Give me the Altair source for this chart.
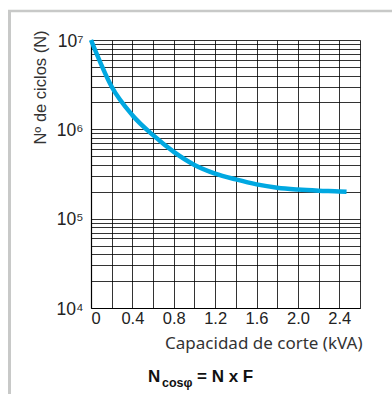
import altair as alt
import pandas as pd

# Curve data
cap_kva = [0.0, 0.2, 0.4, 0.6, 0.8, 1.0, 1.2, 1.4, 1.6, 1.8, 2.0, 2.2, 2.4, 2.47]
ciclos = [1.0e7, 3.0e6, 1.44e6, 8.6e5, 5.6e5, 4.0e5, 3.2e5, 2.75e5, 2.42e5, 2.22e5, 2.12e5, 2.06e5, 2.02e5, 2.0e5]

x_ticks = [0.0, 0.2, 0.4, 0.6, 0.8, 1.0, 1.2, 1.4, 1.6, 1.8, 2.0, 2.2, 2.4, 2.6]
y_ticks = [m * 10 ** e for e in (4, 5, 6) for m in range(1, 10)] + [10 ** 7]

x_title = "Capacidad de corte (kVA)"
y_title = "Nº de ciclos (N)"

df = pd.DataFrame({"x": cap_kva, "y": ciclos})

W, H = 269, 268
PL, PT = 91, 40

x_scale = alt.Scale(domain=[0, 2.6], nice=False, zero=False)
y_scale = alt.Scale(type="log", domain=[1e4, 1e7], nice=False)

curve = alt.Chart(df).mark_line(
    color="#00a8e1", strokeWidth=4.5, interpolate="monotone", strokeCap="butt"
).encode(
    x=alt.X("x:Q", scale=x_scale, axis=alt.Axis(
        values=x_ticks, grid=True, ticks=False, domain=True,
        labelExpr="datum.value == 0 ? '0' : ((round(datum.value*10) % 4 == 0 && datum.value < 2.5) ? format(datum.value, '.1f') : '')",
        labelFont="Liberation Sans", labelFontSize=16.5, labelColor="#222", labelPadding=2,
        title=x_title, titleFont="Noto Sans", titleFontSize=17, titleFontWeight="normal",
        titleColor="#333", titleAnchor="end", titleAlign="right", titleX=W + 2, titleY=40,
        titleBaseline="alphabetic",
    )),
    y=alt.Y("y:Q", scale=y_scale, axis=alt.Axis(
        values=y_ticks, grid=True, ticks=False, domain=True,
        labelExpr="datum.value == 10000 ? '10⁴' : datum.value == 100000 ? '10⁵' : datum.value == 1000000 ? '10⁶' : datum.value == 10000000 ? '10⁷' : ''",
        labelFont="Liberation Sans", labelFontSize=17.5, labelColor="#222", labelPadding=8,
        labelBaseline="middle", labelOffset=1,
        title=y_title, titleFont="Liberation Sans", titleFontSize=16.5, titleFontWeight="normal",
        titleColor="#333", titleAngle=-90, titleX=-51, titleY=47, titleAlign="center",
        titleBaseline="middle",
    )),
)

one = pd.DataFrame({"k": [0]})

frame_top = alt.Chart(one).mark_rule(color="#c8c9c8", strokeWidth=2.5).encode(
    x=alt.value(-83), x2=alt.value(320), y=alt.value(-29)
)
frame_left = alt.Chart(one).mark_rule(color="#c8c9c8", strokeWidth=3).encode(
    x=alt.value(-81.5), y=alt.value(-30), y2=alt.value(370)
)

f_n = alt.Chart(one).mark_text(
    text="N", font="Liberation Sans", fontWeight="bold", fontSize=17, align="left",
    baseline="alphabetic", color="#111"
).encode(x=alt.value(57), y=alt.value(342))
f_sub = alt.Chart(one).mark_text(
    text="cosφ", font="Liberation Sans", fontWeight="bold", fontSize=12.5, align="left",
    baseline="alphabetic", color="#111"
).encode(x=alt.value(71), y=alt.value(347))
f_rest = alt.Chart(one).mark_text(
    text="=  N  x  F", font="Liberation Sans", fontWeight="bold", fontSize=17, align="left",
    baseline="alphabetic", color="#111"
).encode(x=alt.value(106), y=alt.value(342))

chart = alt.layer(curve, frame_top, frame_left, f_n, f_sub, f_rest).properties(
    width=W, height=H,
    autosize=alt.AutoSizeParams(type="none"),
    padding={"left": PL, "top": PT, "right": 392 - PL - W, "bottom": 394 - PT - H},
    background="white",
).configure_view(stroke=None).configure_axis(
    gridColor="#000", gridOpacity=0.8, gridWidth=1, domainColor="#000", domainWidth=1.2
)

chart.save("out.html", embed_options={"renderer": "svg", "actions": False})
